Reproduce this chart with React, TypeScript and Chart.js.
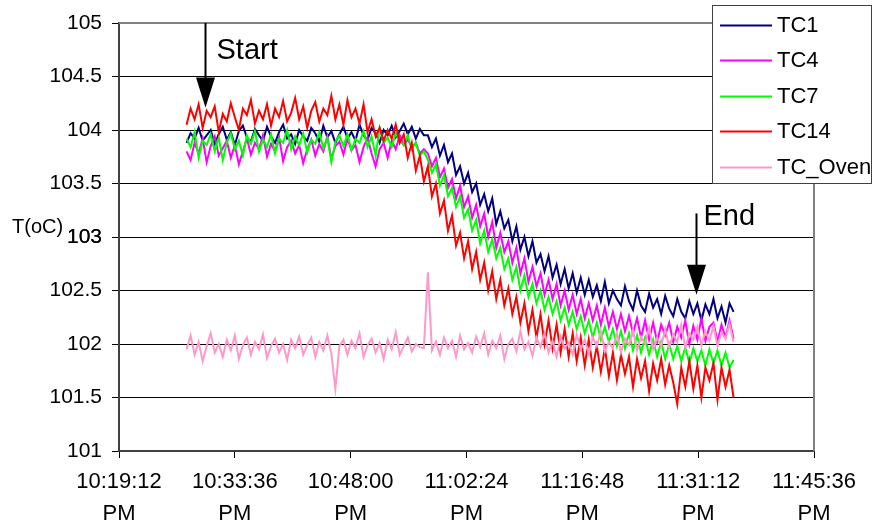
import React, { useEffect, useRef } from "react";
import { Chart, registerables } from "chart.js";

Chart.register(...registerables);

// Sampling grid: seconds after 10:19:12 PM
const TIME_START_SEC = 504;
const TIME_STEP_SEC = 30;

const SERIES_NAMES = ["TC1", "TC4", "TC7", "TC14", "TC_Oven"];
const SERIES_COLORS = ["#000080", "#FF00FF", "#00FF00", "#FF0000", "#FF99CC"];

const TC1 = [
  103.88, 103.97, 103.92, 104.02, 103.9, 103.95, 104.0, 103.87, 103.96, 104.03,
  103.91, 103.98, 103.86, 103.99, 104.04, 103.93, 103.89, 104.01, 103.95, 103.9,
  104.03, 103.94, 103.88, 103.98, 104.05, 103.92, 103.96, 103.87, 104.0, 103.94,
  103.9, 104.02, 103.97, 103.89, 104.04, 103.93, 103.99, 103.88, 103.96, 104.03,
  103.92, 103.98, 103.9, 104.05, 103.95, 103.91, 104.02, 103.97, 103.88, 104.0,
  103.95, 104.04, 103.93, 103.99, 104.06, 103.96, 104.03, 103.92, 104.01, 103.95,
  103.95, 103.84, 103.92, 103.76, 103.86, 103.7, 103.78, 103.58, 103.66, 103.5,
  103.6, 103.42, 103.5, 103.3, 103.4, 103.24, 103.36, 103.12, 103.24, 103.08,
  103.16, 102.96, 103.1, 102.88, 103.0, 102.82, 102.96, 102.76, 102.84, 102.68,
  102.82, 102.62, 102.74, 102.56, 102.7, 102.52, 102.66, 102.48, 102.62, 102.46,
  102.6, 102.44, 102.55, 102.4, 102.58, 102.38, 102.5, 102.42, 102.36, 102.54,
  102.4, 102.32, 102.5, 102.36, 102.3, 102.47, 102.34, 102.42, 102.28, 102.45,
  102.33, 102.26, 102.42, 102.3, 102.24, 102.4, 102.28, 102.38, 102.22, 102.37,
  102.28, 102.42, 102.24, 102.35, 102.2, 102.38, 102.3,
];

const TC4 = [
  103.8, 103.72, 103.88, 103.78, 103.92, 103.7, 103.85, 103.94, 103.76, 103.83,
  103.9, 103.74, 103.86, 103.68, 103.8, 103.92, 103.77, 103.88, 103.82, 103.95,
  103.75, 103.87, 103.8, 103.93, 103.71, 103.84, 103.9, 103.78, 103.86, 103.69,
  103.82, 103.91, 103.76, 103.87, 103.8, 103.94, 103.73, 103.85, 103.89, 103.77,
  103.92, 103.81, 103.86, 103.7, 103.84, 103.93, 103.78, 103.66, 103.82, 103.88,
  103.74, 103.9, 103.82, 103.95, 103.86, 103.91, 103.84, 103.88, 103.78, 103.82,
  103.78, 103.66, 103.74, 103.56, 103.64, 103.46, 103.54, 103.36, 103.48, 103.28,
  103.38, 103.18, 103.3, 103.1, 103.22, 103.0, 103.14, 102.9, 103.04, 102.86,
  102.96, 102.76, 102.9, 102.66, 102.8, 102.58, 102.72, 102.54, 102.66, 102.46,
  102.6, 102.42, 102.56, 102.36, 102.5, 102.32, 102.46, 102.28, 102.42, 102.24,
  102.38, 102.22, 102.36, 102.18, 102.34, 102.16, 102.3, 102.14, 102.28, 102.12,
  102.26, 102.1, 102.24, 102.06, 102.22, 102.04, 102.2, 102.02, 102.18, 102.08,
  102.2, 102.02, 102.16, 102.06, 102.22, 102.0, 102.17, 102.04, 102.24, 102.03,
  102.16, 102.2, 102.02, 102.18, 102.06, 102.22, 102.05,
];

const TC7 = [
  103.92, 103.84, 103.98, 103.74, 103.9, 103.86, 103.96, 103.8, 103.93, 103.72,
  103.88, 103.97, 103.82, 103.9, 103.76, 103.95, 103.87, 103.99, 103.8, 103.91,
  103.84, 103.96, 103.78, 103.92, 103.88, 104.0, 103.82, 103.94, 103.86, 103.97,
  103.79, 103.91, 103.87, 103.98, 103.83, 103.93, 103.7, 103.89, 103.95, 103.85,
  103.96, 103.81, 103.92, 103.88, 103.99, 103.84, 103.94, 103.76, 104.02, 103.88,
  103.93, 103.84, 103.97, 103.9, 103.86, 103.95, 103.82, 103.88, 103.76, 103.8,
  103.72, 103.6, 103.68, 103.48, 103.58, 103.38, 103.46, 103.28, 103.38, 103.18,
  103.26, 103.06, 103.16, 102.94, 103.06, 102.86, 102.98, 102.8, 102.9, 102.7,
  102.8, 102.6, 102.72, 102.5, 102.64, 102.44, 102.56, 102.38, 102.5, 102.32,
  102.44, 102.28, 102.4, 102.22, 102.34, 102.18, 102.3, 102.14, 102.26, 102.1,
  102.22, 102.06, 102.2, 102.04, 102.16, 102.02, 102.14, 101.98, 102.12, 101.96,
  102.1, 101.94, 102.08, 101.92, 102.06, 101.9, 102.04, 101.88, 102.02, 101.86,
  102.0, 101.86, 101.98, 101.84, 101.97, 101.82, 101.96, 101.84, 101.94, 101.8,
  101.95, 101.82, 101.94, 101.8, 101.92, 101.78, 101.85,
];

const TC14 = [
  104.05, 104.2, 104.1, 104.24, 104.02, 104.18, 104.12, 104.22, 103.98, 104.15,
  104.08, 104.25, 104.12, 104.0, 104.2, 104.14, 104.28, 104.06, 104.18, 104.1,
  104.24, 104.04, 104.2, 104.12, 104.27, 104.08, 104.16, 104.3, 104.1, 104.22,
  104.02, 104.18, 104.26, 104.08, 104.2, 104.14, 104.32, 104.1, 104.24, 104.05,
  104.28, 104.12, 104.2, 104.06, 104.24, 103.98, 104.1, 103.94, 104.02, 103.9,
  104.0, 103.92, 104.05, 103.88, 103.96, 103.74, 103.88, 103.62, 103.76, 103.52,
  103.66, 103.38, 103.5, 103.22, 103.34, 103.06, 103.2, 102.92, 103.04, 102.8,
  102.96, 102.7, 102.86, 102.6, 102.76, 102.5, 102.68, 102.42, 102.6, 102.36,
  102.52, 102.28, 102.44, 102.2, 102.38, 102.12, 102.32, 102.06, 102.28, 102.0,
  102.22, 101.96, 102.18, 101.92, 102.14, 101.88, 102.1, 101.84, 102.06, 101.8,
  102.04, 101.78, 101.98, 101.74, 101.96, 101.7, 101.92, 101.66, 101.9, 101.72,
  101.88, 101.6, 101.86, 101.68, 101.84, 101.56, 101.82, 101.66, 101.86, 101.62,
  101.8, 101.64, 101.44, 101.78, 101.6, 101.84, 101.58, 101.8, 101.5, 101.78,
  101.66, 101.82, 101.48, 101.78, 101.6, 101.76, 101.5,
];

const TC_OVEN = [
  101.95, 102.08, 101.9, 102.02, 101.84, 101.98, 102.1, 101.92, 102.0, 101.88,
  102.04, 101.94, 102.08, 101.86, 101.99, 102.06, 101.9, 102.02, 101.95, 102.09,
  101.87, 101.98, 102.05, 101.92, 102.0, 101.85, 102.04, 101.96, 102.07, 101.9,
  101.99, 102.06, 101.88, 102.02, 101.94, 102.08, 101.91, 101.58, 101.98, 102.04,
  101.9, 102.03, 101.96, 102.1, 101.88, 101.99, 102.05, 101.92, 102.01, 101.86,
  102.04, 101.95, 102.11, 101.9, 101.98, 102.06, 101.93, 102.0, 101.97, 101.96,
  102.67, 101.94, 102.02, 101.9, 102.06, 101.96, 102.03, 101.88, 102.08, 101.95,
  102.01, 101.92, 102.07, 101.97, 102.1, 101.9, 102.03, 101.96, 102.08, 101.86,
  102.0, 102.05, 101.93, 102.12, 101.95, 102.02, 101.89, 102.06, 101.97, 102.1,
  101.92, 102.03, 101.88, 102.07, 101.96, 102.01, 101.9, 102.09, 101.95, 102.04,
  101.91, 102.06, 101.98, 102.12, 101.93, 102.02, 101.96, 102.1, 101.92, 102.05,
  101.99, 102.13, 101.94, 102.07, 102.0, 102.15, 101.95, 102.06, 101.98, 102.14,
  101.97, 102.09, 102.02, 102.18, 101.96, 102.1, 102.04, 102.16, 101.99, 102.12,
  102.03, 102.17, 101.98, 102.11, 102.05, 102.19, 102.02,
];

const SERIES_VALUES = [TC1, TC4, TC7, TC14, TC_OVEN];

// Axis
const X_MIN_SEC = 0;
const X_MAX_SEC = 5184;
const X_STEP_SEC = 864;
const X_BASE_CLOCK_SEC = 22 * 3600 + 19 * 60 + 12;
const Y_MIN = 101;
const Y_MAX = 105;
const Y_STEP = 0.5;
const Y_TITLE = "T(oC)";

// Annotations (time in seconds, temperature values)
const START_LABEL = "Start";
const START_SEC = 641;
const START_TOP = 105;
const START_TIP = 104.21;
const END_LABEL = "End";
const END_SEC = 4302;
const END_TOP = 103.22;
const END_TIP = 102.46;

const FONT = "'Liberation Sans', Arial, Helvetica, sans-serif";
const Y_TICK_FONT_SIZE = 21;
const Y_TICK_LENGTH = 7;
const Y_TICK_PADDING = 10;

function clock(sec: number): string[] {
  const s = Math.round(X_BASE_CLOCK_SEC + sec);
  let h = Math.floor(s / 3600) % 24;
  const m = Math.floor((s % 3600) / 60);
  const ss = s % 60;
  const ampm = h >= 12 ? "PM" : "AM";
  h = h % 12;
  if (h === 0) h = 12;
  return [`${h}:${String(m).padStart(2, "0")}:${String(ss).padStart(2, "0")}`, ampm];
}

const decorPlugin = {
  id: "decor",
  afterDraw(chart: any) {
    const ctx = chart.ctx as CanvasRenderingContext2D;
    const xs = chart.scales.x;
    const ys = chart.scales.y;
    const area = chart.chartArea;
    ctx.save();
    // top and right border of plot area
    ctx.strokeStyle = "#808080";
    ctx.lineWidth = 2;
    ctx.beginPath();
    ctx.moveTo(area.left, area.top);
    ctx.lineTo(area.right, area.top);
    ctx.lineTo(area.right, area.bottom);
    ctx.stroke();

    // make sure every y tick label of the scale is shown
    ctx.fillStyle = "#000";
    ctx.font = `${Y_TICK_FONT_SIZE}px ${FONT}`;
    ctx.textAlign = "right";
    ctx.textBaseline = "middle";
    ys.ticks.forEach((t: any) => {
      if (Math.abs(t.value - 103) < 1e-9) {
        ctx.fillText(String(t.label), area.left - Y_TICK_LENGTH - Y_TICK_PADDING, ys.getPixelForValue(t.value));
      }
    });

    // arrows
    const arrow = (sec: number, top: number, tip: number) => {
      const x = Math.round(xs.getPixelForValue(sec)) + 0.5;
      const y0 = ys.getPixelForValue(top);
      const y1 = ys.getPixelForValue(tip);
      const headH = 30;
      ctx.strokeStyle = "#000";
      ctx.fillStyle = "#000";
      ctx.lineWidth = 2;
      ctx.beginPath();
      ctx.moveTo(x, y0);
      ctx.lineTo(x, y1 - headH + 2);
      ctx.stroke();
      ctx.beginPath();
      ctx.moveTo(x - 9.5, y1 - headH);
      ctx.lineTo(x + 9.5, y1 - headH);
      ctx.lineTo(x, y1);
      ctx.closePath();
      ctx.fill();
      return { x, y0 };
    };
    const a1 = arrow(START_SEC, START_TOP, START_TIP);
    const a2 = arrow(END_SEC, END_TOP, END_TIP);
    ctx.fillStyle = "#000";
    ctx.font = `29px ${FONT}`;
    ctx.textBaseline = "middle";
    ctx.textAlign = "left";
    ctx.fillText(START_LABEL, a1.x + 11, a1.y0 + 28);
    ctx.fillText(END_LABEL, a2.x + 7, a2.y0 + 4);

    // y title
    ctx.font = `20px ${FONT}`;
    ctx.fillText(Y_TITLE, 12, 227);

    // legend
    const lx = 712.5, ly = 5.5, lw = 159, lh = 178;
    ctx.fillStyle = "#fff";
    ctx.fillRect(lx, ly, lw, lh);
    ctx.strokeStyle = "#404040";
    ctx.lineWidth = 1;
    ctx.strokeRect(lx, ly, lw, lh);
    ctx.font = `22px ${FONT}`;
    SERIES_NAMES.forEach((name, i) => {
      const y = 25 + i * 35.4;
      ctx.strokeStyle = SERIES_COLORS[i];
      ctx.lineWidth = 2;
      ctx.beginPath();
      ctx.moveTo(720, Math.round(y) + 0.5);
      ctx.lineTo(772, Math.round(y) + 0.5);
      ctx.stroke();
      ctx.fillStyle = "#000";
      ctx.fillText(name, 777, y + 1);
    });
    ctx.restore();
  },
};

export default function App() {
  const ref = useRef<HTMLCanvasElement | null>(null);
  useEffect(() => {
    document.body.style.margin = "0";
    const datasets = SERIES_VALUES.map((vals, k) => ({
      label: SERIES_NAMES[k],
      data: vals.map((v, i) => ({ x: TIME_START_SEC + i * TIME_STEP_SEC, y: v })),
      borderColor: SERIES_COLORS[k],
      backgroundColor: SERIES_COLORS[k],
      borderWidth: 2,
      pointRadius: 0,
      tension: 0,
      order: SERIES_VALUES.length - k,
    }));
    const chart = new Chart(ref.current as HTMLCanvasElement, {
      type: "line",
      data: { datasets },
      options: {
        animation: false,
        responsive: false,
        layout: { padding: { left: 0, top: 23, right: 59, bottom: 0 } },
        plugins: { legend: { display: false }, tooltip: { enabled: false } },
        scales: {
          x: {
            type: "linear",
            min: X_MIN_SEC,
            max: X_MAX_SEC,
            afterFit: (s: any) => {
              s.height = 75;
              s.paddingLeft = 0;
              s.paddingRight = 0;
            },
            ticks: {
              stepSize: X_STEP_SEC,
              autoSkip: false,
              maxRotation: 0,
              padding: 8,
              color: "#000",
              font: { family: FONT, size: 22, lineHeight: 1.45 },
              callback: (v: any) => clock(Number(v)),
            },
            grid: {
              drawOnChartArea: false,
              drawTicks: true,
              tickLength: 7,
              tickColor: "#000",
              tickWidth: 1,
            },
            border: { display: true, color: "#404040", width: 2 },
          },
          y: {
            type: "linear",
            min: Y_MIN,
            max: Y_MAX,
            afterFit: (s: any) => {
              s.width = 119;
              s.paddingTop = 0;
              s.paddingBottom = 0;
            },
            ticks: {
              stepSize: Y_STEP,
              autoSkip: false,
              padding: Y_TICK_PADDING,
              color: "#000",
              font: { family: FONT, size: Y_TICK_FONT_SIZE },
              callback: (v: any) => String(Number(v)),
            },
            grid: {
              color: "#000",
              lineWidth: 1,
              drawTicks: true,
              tickLength: Y_TICK_LENGTH,
              tickColor: "#000",
            },
            border: { display: true, color: "#404040", width: 2 },
          },
        },
      },
      plugins: [decorPlugin],
    });
    return () => chart.destroy();
  }, []);
  return (
    <div style={{ position: "absolute", left: 0, top: 0, width: 873, height: 526 }}>
      <canvas ref={ref} width={873} height={526} />
    </div>
  );
}
